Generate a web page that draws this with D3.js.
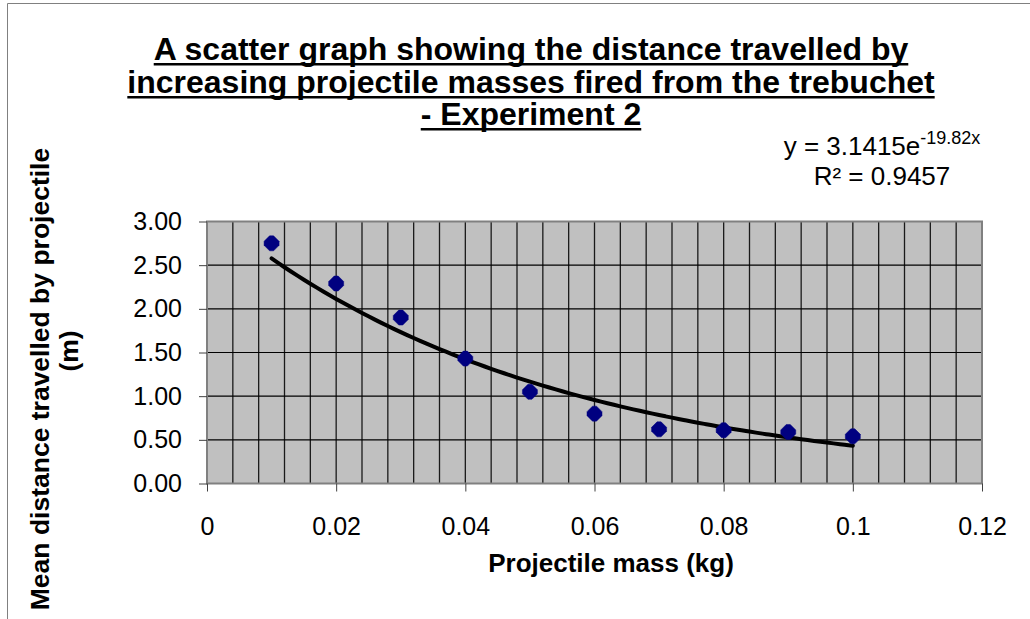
<!DOCTYPE html>
<html><head><meta charset="utf-8">
<script src="https://cdn.jsdelivr.net/npm/d3@7"></script>
<style>
body{margin:0;background:#fff}
svg{display:block;font-family:"Liberation Sans",Arial,sans-serif}
</style>
</head><body>
<svg id="c" width="1030" height="619"></svg>
<script>
// ---- data ----
const titleLines = [
  "A scatter graph showing the distance travelled by",
  "increasing projectile masses fired from the trebuchet",
  "- Experiment 2"
];
const massKg = [0.01, 0.02, 0.03, 0.04, 0.05, 0.06, 0.07, 0.08, 0.09, 0.10];
const meanDistance = [2.75, 2.29, 1.90, 1.43, 1.05, 0.80, 0.62, 0.61, 0.59, 0.54];
const xTicks = [0, 0.02, 0.04, 0.06, 0.08, 0.10, 0.12];
const xTickLabels = ["0", "0.02", "0.04", "0.06", "0.08", "0.1", "0.12"];
const yTicks = [0, 0.5, 1.0, 1.5, 2.0, 2.5, 3.0];
const yTickLabels = ["0.00", "0.50", "1.00", "1.50", "2.00", "2.50", "3.00"];
const xMinorStep = 0.004;
const trendA = 3.1415, trendB = -19.82;   // displayed exponential trendline
const eqMain = "y = 3.1415e", eqSup = "-19.82x", r2Text = "R\u00B2 = 0.9457";
const xTitle = "Projectile mass (kg)";
const yTitleLines = ["Mean distance travelled by projectile", "(m)"];

// ---- layout ----
const svg = d3.select("#c");
const P = {l: 207, r: 982, t: 221.5, b: 483.5};
const x = d3.scaleLinear().domain([0, 0.12]).range([P.l, P.r]);
const y = d3.scaleLinear().domain([0, 3]).range([P.b, P.t]);

// outer chart border (partially visible)
svg.append("path").attr("d", "M7.5,619 V3.5 H1030")
  .attr("fill", "none").attr("stroke", "#808080").attr("stroke-width", 1);

// plot area
svg.append("rect").attr("x", P.l).attr("y", P.t).attr("width", P.r - P.l).attr("height", P.b - P.t)
  .attr("fill", "#C0C0C0");

// vertical gridlines every 0.004
const xGrid = d3.range(0, 0.12 + 1e-9, xMinorStep);
svg.append("g").selectAll("line").data(xGrid).join("line")
  .attr("x1", d => x(d)).attr("x2", d => x(d)).attr("y1", P.t).attr("y2", P.b)
  .attr("stroke", "#1a1a1a").attr("stroke-width", 1.3);
// horizontal gridlines
svg.append("g").selectAll("line").data(yTicks).join("line")
  .attr("x1", P.l).attr("x2", P.r).attr("y1", d => y(d)).attr("y2", d => y(d))
  .attr("stroke", "#000").attr("stroke-width", 1.2);

// plot border
svg.append("rect").attr("x", P.l).attr("y", P.t).attr("width", P.r - P.l).attr("height", P.b - P.t)
  .attr("fill", "none").attr("stroke", "#808080").attr("stroke-width", 2);

// axes via d3
const yAxis = d3.axisLeft(y).tickValues(yTicks).tickFormat((d, i) => yTickLabels[i])
  .tickSizeInner(8).tickSizeOuter(0).tickPadding(17);
const gy = svg.append("g").attr("transform", `translate(${P.l},0)`).call(yAxis);
const xAxis = d3.axisBottom(x).tickValues(xTicks).tickFormat((d, i) => xTickLabels[i])
  .tickSizeInner(8).tickSizeOuter(0).tickPadding(26);
const gx = svg.append("g").attr("transform", `translate(0,${P.b})`).call(xAxis);
[gx, gy].forEach(g => {
  g.select(".domain").remove();
  g.selectAll(".tick line").attr("stroke", "#404040").attr("stroke-width", 1);
  g.selectAll(".tick text").attr("font-size", 25).attr("fill", "#000")
    .attr("font-family", "'Liberation Sans', Arial, sans-serif");
});

// trendline
const trendX = d3.range(massKg[0], massKg[massKg.length - 1] + 1e-9, 0.001);
const line = d3.line().x(d => x(d)).y(d => y(trendA * Math.exp(trendB * d))).curve(d3.curveMonotoneX);
svg.append("path").datum(trendX).attr("d", line)
  .attr("fill", "none").attr("stroke", "#000").attr("stroke-width", 4).attr("stroke-linecap", "round");

// markers (diamonds with slightly flattened tips)
const mk = "M-2,-7.5 L2,-7.5 L7.5,-2 L7.5,2 L2,7.5 L-2,7.5 L-7.5,2 L-7.5,-2 Z";
svg.append("g").selectAll("path").data(massKg).join("path")
  .attr("d", mk)
  .attr("transform", (d, i) => `translate(${x(d)},${y(meanDistance[i])})`)
  .attr("fill", "#000080").attr("stroke", "#000080").attr("stroke-width", 0.5);

// title: one text element, three lines, manual underlines
const tBase = [60, 93, 125];
const tg = svg.append("g");
const title = tg.append("text").attr("text-anchor", "middle")
  .attr("font-size", 32).attr("font-weight", "bold");
const spans = titleLines.map((t, i) =>
  title.append("tspan").attr("x", 531).attr("y", tBase[i]).text(t));
spans.forEach((s, i) => {
  const w = s.node().getComputedTextLength();
  tg.append("rect").attr("x", 531 - w / 2).attr("y", tBase[i] + 3).attr("width", w).attr("height", 2.5).attr("fill", "#000");
});

// equation
const eq = svg.append("text").attr("x", 882).attr("y", 155).attr("text-anchor", "middle").attr("font-size", 26);
eq.append("tspan").text(eqMain);
eq.append("tspan").attr("dy", -11).attr("font-size", 18).text(eqSup);
svg.append("text").attr("x", 882).attr("y", 185).attr("text-anchor", "middle").attr("font-size", 26).text(r2Text);

// axis titles
svg.append("text").attr("x", 611).attr("y", 572).attr("text-anchor", "middle")
  .attr("font-size", 26).attr("font-weight", "bold").text(xTitle);
const yCenters = [379, 351], yBases = [49, 78];
yTitleLines.forEach((t, i) => {
  svg.append("text").attr("transform", `translate(${yBases[i]},${yCenters[i]}) rotate(-90)`)
    .attr("text-anchor", "middle").attr("font-size", 26.5).attr("font-weight", "bold").text(t);
});
</script>
</body></html>
